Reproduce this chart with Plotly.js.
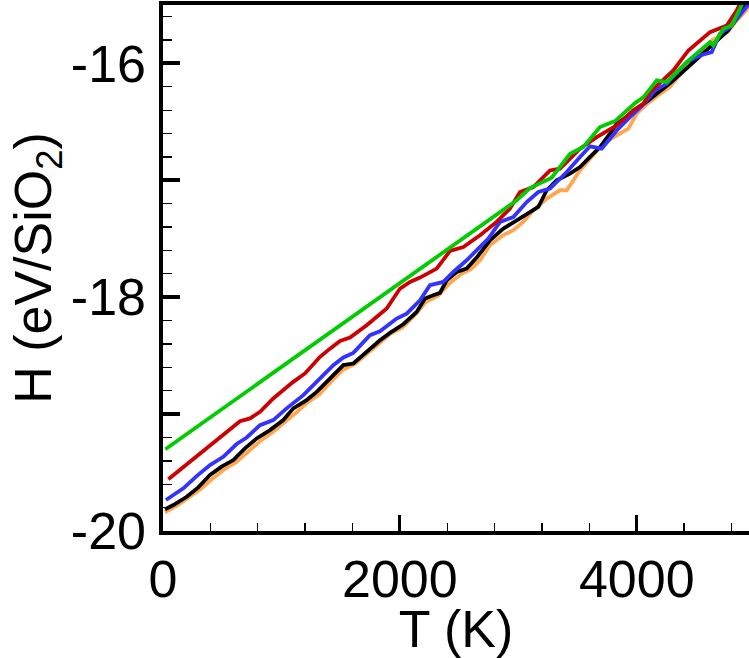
<!DOCTYPE html>
<html>
<head>
<meta charset="utf-8">
<script src="https://cdn.plot.ly/plotly-3.0.1.min.js"></script>
<style>html,body{margin:0;padding:0;background:#fff;}#chart{width:749px;height:658px;}</style>
</head>
<body>
<div id="chart"></div>
<script>
// Temperature (K) and enthalpy H (eV/SiO2) for each curve
const orangeT = [17,120,220,320,420,520,620,720,820,920,1020,1120,1220,1320,1420,1520,1620,1720,1820,1920,2020,2120,2220,2320,2420,2520,2600,2677,2761,2870,2958,3042,3127,3240,3352,3409,3521,3606,3718,3831,3929,4000,4070,4170,4280,4420,4500,4600,4640,4770,4830,4920,4980];
const orangeH = [-19.84,-19.78,-19.71,-19.64,-19.55,-19.47,-19.41,-19.32,-19.23,-19.16,-19.08,-18.99,-18.90,-18.83,-18.72,-18.62,-18.57,-18.49,-18.40,-18.31,-18.26,-18.16,-18.04,-17.99,-17.88,-17.80,-17.76,-17.684,-17.556,-17.47,-17.427,-17.356,-17.256,-17.156,-17.085,-17.085,-16.915,-16.815,-16.686,-16.615,-16.558,-16.43,-16.359,-16.28,-16.2,-16.03,-15.96,-15.86,-15.80,-15.73,-15.65,-15.55,-15.45];

const blackT = [17,87,200,298,397,495,594,692,791,903,1016,1100,1213,1298,1424,1523,1607,1720,1832,1917,2029,2142,2212,2282,2339,2395,2480,2564,2649,2761,2874,2987,3071,3169,3240,3324,3437,3521,3606,3690,3774,3831,3915,4000,4070,4170,4280,4450,4627,4771,4890,4960];
const blackH = [-19.815,-19.778,-19.707,-19.627,-19.521,-19.45,-19.393,-19.293,-19.208,-19.137,-19.051,-18.951,-18.88,-18.81,-18.681,-18.581,-18.567,-18.468,-18.368,-18.305,-18.231,-18.126,-18.011,-17.983,-17.963,-17.855,-17.784,-17.755,-17.661,-17.513,-17.413,-17.342,-17.285,-17.228,-17.085,-17.0,-16.943,-16.886,-16.8,-16.715,-16.601,-16.515,-16.459,-16.387,-16.339,-16.26,-16.17,-16.017,-15.846,-15.718,-15.547,-15.42];

const blueT = [25,172,284,397,509,622,707,819,931,1044,1185,1298,1438,1523,1607,1748,1832,1973,2058,2170,2254,2367,2451,2564,2677,2747,2846,2958,3071,3169,3268,3409,3521,3606,3704,3831,3943,4056,4154,4253,4422,4534,4633,4703,4788,4929,4980];
const blueH = [-19.735,-19.635,-19.53,-19.436,-19.365,-19.256,-19.2,-19.094,-19.051,-18.951,-18.838,-18.72,-18.581,-18.515,-18.476,-18.325,-18.291,-18.182,-18.14,-18.026,-17.897,-17.869,-17.784,-17.684,-17.57,-17.498,-17.356,-17.314,-17.186,-17.1,-17.071,-16.929,-16.801,-16.709,-16.729,-16.573,-16.459,-16.35,-16.231,-16.174,-15.989,-15.932,-15.903,-15.746,-15.69,-15.519,-15.45];

const redT = [45,330,650,735,819,931,1100,1199,1326,1410,1495,1579,1720,1889,2001,2086,2170,2311,2423,2536,2677,2817,2930,3014,3127,3268,3352,3521,3662,3831,3971,4056,4112,4309,4436,4619,4760,4844,4886,4940];
const redH = [-19.558,-19.32,-19.061,-19.037,-18.98,-18.866,-18.724,-18.652,-18.51,-18.44,-18.374,-18.345,-18.239,-18.097,-17.926,-17.869,-17.832,-17.755,-17.604,-17.57,-17.47,-17.356,-17.242,-17.1,-17.057,-16.915,-16.9,-16.729,-16.63,-16.53,-16.4,-16.344,-16.245,-16.06,-15.889,-15.732,-15.675,-15.547,-15.46,-15.38];

const greenT = [20,1330,2987,3099,3282,3437,3549,3690,3817,3986,4056,4169,4253,4422,4619,4647,4731,4802,4872,4940];
const greenH = [-19.30,-18.36,-17.171,-17.066,-16.977,-16.772,-16.715,-16.544,-16.493,-16.339,-16.29,-16.145,-16.16,-15.989,-15.818,-15.846,-15.703,-15.675,-15.519,-15.39];

const yMajorTicks = [-20,-19,-18,-17,-16];
const yLabelVals = [-20,-18,-16];
const yLabelText = ['-20','-18','-16'];
const xTickVals = [0,2000,4000];
const xTickText = ['0','2000','4000'];

const FONT = 'Liberation Sans, Arial, sans-serif';
function line(x, y, color, name) {
  return {x: x, y: y, type: 'scatter', mode: 'lines', name: name,
          line: {color: color, width: 3.8}, hoverinfo: 'skip'};
}
const data = [
  line(orangeT, orangeH, '#FFA64F', 'orange'),
  line(blackT, blackH, '#000000', 'black'),
  line(blueT, blueH, '#3333FF', 'blue'),
  line(redT, redH, '#CC0000', 'red'),
  line(greenT, greenH, '#00CC00', 'green'),
  {x: [], y: [], type: 'scatter', mode: 'lines', yaxis: 'y2', hoverinfo: 'skip'}
];
const layout = {
  width: 749, height: 658,
  margin: {l: 163, r: 0, t: 5, b: 127, pad: 0},
  paper_bgcolor: '#fff', plot_bgcolor: '#fff',
  showlegend: false,
  font: {family: FONT, color: '#000', size: 52},
  xaxis: {
    range: [0, 4948], showgrid: false, zeroline: false,
    showline: true, linecolor: '#000', linewidth: 4, mirror: true,
    ticks: 'inside', ticklen: 16, tickwidth: 3, tickcolor: '#000',
    tickmode: 'array', tickvals: xTickVals, ticktext: xTickText,
    tickfont: {family: FONT, size: 52, color: '#000'},
    minor: {dtick: 400, tick0: 0, ticks: 'inside', ticklen: 8, tickwidth: 1.3, tickcolor: '#000', showgrid: false},
    title: {text: 'T (K)', font: {family: FONT, size: 52, color: '#000'}, standoff: 6},
    automargin: false
  },
  yaxis: {
    range: [-20, -15.5], showgrid: false, zeroline: false,
    showline: true, linecolor: '#000', linewidth: 4, mirror: false,
    ticks: 'inside', ticklen: 17, tickwidth: 4, tickcolor: '#000',
    tickmode: 'array', tickvals: yMajorTicks, showticklabels: false,
    minor: {dtick: 0.2, tick0: -20, ticks: 'inside', ticklen: 9, tickwidth: 1.3, tickcolor: '#000', showgrid: false},
    automargin: false
  },
  yaxis2: {
    overlaying: 'y', side: 'left', anchor: 'x',
    range: [-20, -15.5], showgrid: false, zeroline: false, showline: false,
    ticks: '', tickmode: 'array', tickvals: yLabelVals, ticktext: yLabelText,
    tickfont: {family: FONT, size: 52, color: '#000'},
    ticklabelstandoff: 16,
    title: {text: 'H (eV/SiO<sub>2</sub>)', font: {family: FONT, size: 52, color: '#000'}, standoff: 2},
    automargin: false
  }
};
Plotly.newPlot('chart', data, layout, {staticPlot: true, displayModeBar: false});
</script>
</body>
</html>
